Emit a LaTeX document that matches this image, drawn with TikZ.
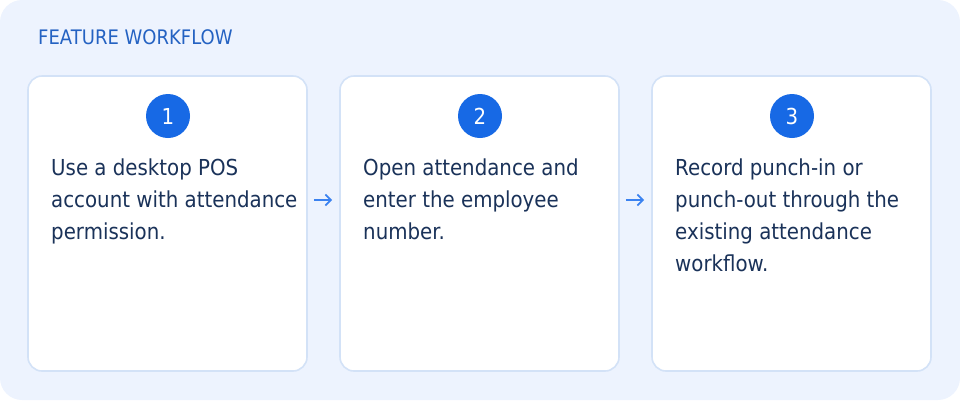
\documentclass[tikz,border=0pt]{standalone}
\usepackage{fontspec}
\setmainfont{DejaVu Sans}[FakeStretch=0.9]
\usetikzlibrary{arrows.meta}
\definecolor{bgc}{HTML}{EDF3FE}
\definecolor{cardborder}{HTML}{D3E2F7}
\definecolor{badge}{HTML}{1769E5}
\definecolor{bodytxt}{HTML}{1A3259}
\definecolor{titletxt}{HTML}{2462C2}
\definecolor{arrowc}{HTML}{3B82F0}
\tikzset{
  card/.style={draw=cardborder, line width=1.6pt, fill=white, rounded corners=14pt,
    minimum width=279pt, minimum height=295pt, inner sep=0pt},
  badgenode/.style={circle, fill=badge, minimum size=44pt, inner sep=0pt,
    text=white, font=\fontsize{22}{24}\selectfont},
  bodytext/.style={anchor=base west, align=left, inner sep=0pt, text=bodytxt,
    font=\fontsize{22}{32}\selectfont},
  flowarrow/.style={draw=arrowc, line width=1.8pt, -{Straight Barb[length=5.5pt,width=11pt,line width=1.8pt]}},
}
\begin{document}
\begin{tikzpicture}[x=1pt,y=-1pt]
\useasboundingbox (0,0) rectangle (960,400);
\fill[bgc, rounded corners=22pt] (0,0) rectangle (960,400);
\node[anchor=base west, inner sep=0pt, text=titletxt, font=\fontsize{20}{24}\selectfont] (title) at (38,44) {FEATURE WORKFLOW};
\node[card] (c1) at (167.5,223.5) {};
\node[card] (c2) at (479.5,223.5) {};
\node[card] (c3) at (791.5,223.5) {};
\node[badgenode] (n1) at (168,116) {1};
\node[badgenode] (n2) at (480,116) {2};
\node[badgenode] (n3) at (792,116) {3};
% base anchor of a multi-line node is the baseline of its last line
\node[bodytext] (t1) at (51,239) {Use a desktop POS\\account with attendance\\permission.};
\node[bodytext] (t2) at (363,239) {Open attendance and\\enter the employee\\number.};
\node[bodytext] (t3) at (675,271) {Record punch-in or\\punch-out through the\\existing attendance\\workflow.};
\draw[flowarrow] ([xshift=6pt,yshift=23.5pt]c1.east) -- ([xshift=-7pt,yshift=23.5pt]c2.west);
\draw[flowarrow] ([xshift=6pt,yshift=23.5pt]c2.east) -- ([xshift=-7pt,yshift=23.5pt]c3.west);
\end{tikzpicture}
\end{document}
